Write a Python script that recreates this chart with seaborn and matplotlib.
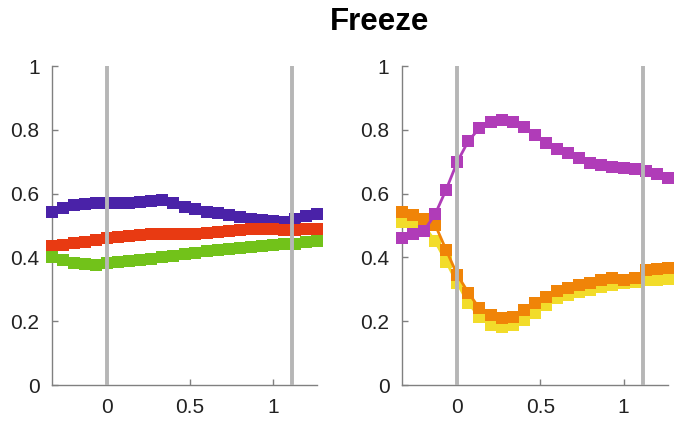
import numpy as np
import pandas as pd
import matplotlib
matplotlib.use("Agg")
import matplotlib.pyplot as plt
import seaborn as sns

# time axis (s)
time = [-0.333, -0.267, -0.2, -0.133, -0.067, 0.0, 0.067, 0.133, 0.2, 0.267,
        0.333, 0.4, 0.467, 0.533, 0.6, 0.667, 0.733, 0.8, 0.867, 0.933,
        1.0, 1.067, 1.133, 1.2, 1.267]

# left panel
left_purple = [0.543, 0.554, 0.564, 0.567, 0.570, 0.572, 0.572, 0.572, 0.575, 0.578,
               0.580, 0.570, 0.559, 0.551, 0.543, 0.538, 0.533, 0.528, 0.522, 0.517,
               0.515, 0.512, 0.522, 0.530, 0.536]
left_red = [0.436, 0.439, 0.444, 0.449, 0.455, 0.460, 0.463, 0.467, 0.470, 0.473,
            0.475, 0.473, 0.475, 0.475, 0.478, 0.481, 0.484, 0.486, 0.488, 0.490,
            0.488, 0.486, 0.486, 0.488, 0.488]
left_green = [0.402, 0.392, 0.383, 0.378, 0.376, 0.381, 0.385, 0.389, 0.392, 0.396,
              0.400, 0.405, 0.410, 0.415, 0.419, 0.422, 0.427, 0.430, 0.434, 0.437,
              0.439, 0.441, 0.443, 0.447, 0.450]

# right panel
right_purple = [0.460, 0.475, 0.484, 0.536, 0.613, 0.700, 0.766, 0.805, 0.825, 0.831,
                0.825, 0.808, 0.784, 0.758, 0.739, 0.726, 0.713, 0.697, 0.690, 0.684,
                0.679, 0.677, 0.672, 0.661, 0.650]
right_orange = [0.543, 0.533, 0.522, 0.502, 0.423, 0.345, 0.289, 0.240, 0.219, 0.209,
                0.214, 0.235, 0.256, 0.277, 0.296, 0.303, 0.313, 0.321, 0.329, 0.337,
                0.329, 0.334, 0.360, 0.363, 0.366]
right_yellow = [0.512, 0.507, 0.500, 0.450, 0.387, 0.319, 0.256, 0.214, 0.188, 0.183,
                0.188, 0.204, 0.225, 0.251, 0.272, 0.282, 0.293, 0.298, 0.308, 0.313,
                0.319, 0.322, 0.328, 0.330, 0.332]

event_lines = [0.0, 1.117]
x_ticks = [0, 0.5, 1]
y_ticks = [0, 0.2, 0.4, 0.6, 0.8, 1]

left_df = pd.DataFrame({
    "time": time * 3,
    "value": left_purple + left_red + left_green,
    "series": ["purple"] * 25 + ["red"] * 25 + ["green"] * 25,
})
right_df = pd.DataFrame({
    "time": time * 3,
    "value": right_yellow + right_orange + right_purple,
    "series": ["yellow"] * 25 + ["orange"] * 25 + ["magenta"] * 25,
})

palette = {"purple": "#4a22a8", "red": "#e83a12", "green": "#72c21a",
           "yellow": "#f2dc2a", "orange": "#f08408", "magenta": "#b03cb8"}

sns.set_theme(style="white")
plt.rcParams["font.family"] = ["Liberation Sans", "DejaVu Sans"]

fig = plt.figure(figsize=(6.79, 4.23), dpi=100)
ax1 = fig.add_axes([0.0766, 0.0898, 0.3903, 0.754])
ax2 = fig.add_axes([0.592, 0.0898, 0.3918, 0.754])

for ax, df in ((ax1, left_df), (ax2, right_df)):
    sns.lineplot(data=df, x="time", y="value", hue="series", palette=palette,
                 marker="s", markersize=8.5, markeredgewidth=0, linewidth=2,
                 legend=False, ax=ax, zorder=3)
    for ln in ax.lines:
        ln.set_clip_on(False)
    for xv in event_lines:
        ax.axvline(xv, color="#b6b6b6", lw=2.8, zorder=5)
    ax.set_xlim(-0.333, 1.267)
    ax.set_ylim(0, 1)
    ax.set_xticks(x_ticks)
    ax.set_xticklabels(["0", "0.5", "1"])
    ax.set_yticks(y_ticks)
    ax.set_yticklabels(["0", "0.2", "0.4", "0.6", "0.8", "1"])
    ax.set_xlabel("")
    ax.set_ylabel("")
    for s in ("top", "right"):
        ax.spines[s].set_visible(False)
    for s in ("left", "bottom"):
        ax.spines[s].set_color("#808080")
        ax.spines[s].set_linewidth(1.0)
    ax.tick_params(direction="in", length=4, width=1, color="#808080",
                   labelsize=15, labelcolor="#222222", pad=9,
                   left=True, bottom=True)

fig.text(379.5 / 679, 1 - 22 / 423, "Freeze", ha="center", va="center",
         fontsize=22.5, fontweight="bold", color="black")

fig.savefig("out.png", dpi=100)
